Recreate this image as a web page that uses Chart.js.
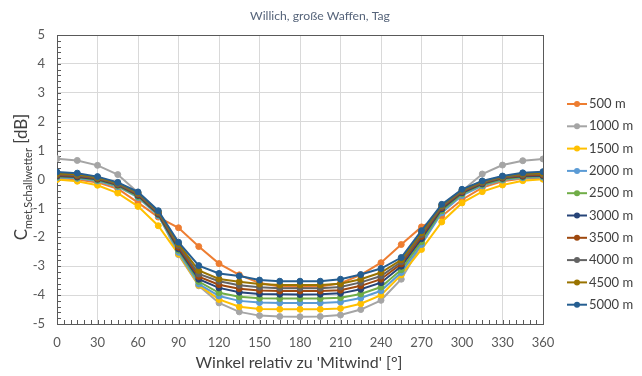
<!DOCTYPE html>
<html>
<head>
<meta charset="utf-8">
<script src="https://cdn.jsdelivr.net/npm/chart.js@4.4.1/dist/chart.umd.min.js"></script>
<style>
  html, body { margin: 0; padding: 0; background: #ffffff; }
  #wrap { width: 642px; height: 376px; position: relative; }
</style>
</head>
<body>
<div id="wrap"><canvas id="c" width="642" height="376"></canvas></div>
<script>
const chartTitle = "Willich, große Waffen, Tag";
const xAxisTitle = "Winkel relativ zu 'Mitwind' [°]";
const yAxisMain = "C";
const yAxisSub = "met,Schallwetter";
const yAxisUnit = " [dB]";

const angles = [0,15,30,45,60,75,90,105,120,135,150,165,180,195,210,225,240,255,270,285,300,315,330,345,360];
const seriesLabels = ["500 m","1000 m","1500 m","2000 m","2500 m","3000 m","3500 m","4000 m","4500 m","5000 m"];

const s500  = [0.05, 0.00, -0.10, -0.32, -0.80, -1.30, -1.67, -2.32, -2.91, -3.30, -3.58, -3.70, -3.72, -3.70, -3.59, -3.30, -2.88, -2.25, -1.64, -1.27, -0.70, -0.28, -0.06, 0.03, 0.06];
const s1000 = [0.72, 0.66, 0.49, 0.17, -0.45, -1.20, -2.60, -3.68, -4.27, -4.58, -4.71, -4.74, -4.75, -4.74, -4.69, -4.50, -4.18, -3.45, -2.25, -1.05, -0.40, 0.19, 0.50, 0.65, 0.71];
const s1500 = [0.00, -0.06, -0.20, -0.47, -0.93, -1.60, -2.58, -3.66, -4.15, -4.40, -4.48, -4.49, -4.49, -4.49, -4.46, -4.30, -4.00, -3.30, -2.42, -1.47, -0.81, -0.42, -0.19, -0.04, 0.01];
const s2000 = [0.07, 0.04, -0.05, -0.25, -0.62, -1.25, -2.52, -3.62, -4.03, -4.20, -4.26, -4.27, -4.27, -4.27, -4.24, -4.10, -3.85, -3.22, -2.25, -1.15, -0.55, -0.22, -0.02, 0.06, 0.08];
const s2500 = [0.10, 0.07, -0.02, -0.22, -0.59, -1.22, -2.45, -3.53, -3.92, -4.06, -4.11, -4.12, -4.12, -4.12, -4.09, -3.96, -3.72, -3.12, -2.15, -1.08, -0.50, -0.18, 0.01, 0.09, 0.11];
const s3000 = [0.12, 0.09, 0.01, -0.19, -0.55, -1.20, -2.40, -3.45, -3.75, -3.90, -3.96, -3.97, -3.98, -3.97, -3.94, -3.80, -3.57, -3.00, -2.05, -1.02, -0.46, -0.15, 0.04, 0.11, 0.13];
const s3500 = [0.15, 0.12, 0.03, -0.17, -0.52, -1.17, -2.34, -3.36, -3.64, -3.78, -3.84, -3.86, -3.86, -3.86, -3.83, -3.68, -3.45, -2.92, -1.97, -0.97, -0.43, -0.12, 0.06, 0.14, 0.16];
const s4000 = [0.18, 0.15, 0.05, -0.15, -0.49, -1.14, -2.28, -3.27, -3.52, -3.66, -3.73, -3.76, -3.76, -3.76, -3.72, -3.56, -3.34, -2.85, -1.90, -0.93, -0.40, -0.10, 0.08, 0.17, 0.19];
const s4500 = [0.21, 0.18, 0.07, -0.12, -0.46, -1.11, -2.23, -3.15, -3.44, -3.54, -3.62, -3.65, -3.65, -3.65, -3.61, -3.45, -3.22, -2.78, -1.84, -0.89, -0.37, -0.07, 0.10, 0.20, 0.22];
const s5000 = [0.26, 0.22, 0.10, -0.10, -0.43, -1.08, -2.17, -2.98, -3.25, -3.34, -3.48, -3.52, -3.52, -3.52, -3.45, -3.29, -3.08, -2.70, -1.77, -0.86, -0.34, -0.05, 0.12, 0.23, 0.27];

const seriesValues = [s500, s1000, s1500, s2000, s2500, s3000, s3500, s4000, s4500, s5000];
const seriesColors = ["#ED7D31","#A5A5A5","#FFC000","#5B9BD5","#70AD47","#264478","#9E480E","#636363","#997300","#255E91"];

const FONT = "Lato, 'Open Sans', sans-serif";

function fitSize(ctx, text, target) {
  ctx.save();
  ctx.font = '20px ' + FONT;
  const w = ctx.measureText(text).width;
  ctx.restore();
  return Math.max(8, Math.min(22, 20 * target / w));
}

const datasets = seriesValues.map((vals, i) => ({
  label: seriesLabels[i],
  data: vals.map((v, j) => ({ x: angles[j], y: v })),
  borderColor: seriesColors[i],
  backgroundColor: seriesColors[i],
  pointBackgroundColor: seriesColors[i],
  pointBorderColor: seriesColors[i],
  borderWidth: 2,
  pointRadius: 3,
  pointBorderWidth: 1,
  tension: 0,
  order: seriesValues.length - 1 - i
}));

const decorPlugin = {
  id: 'decor',
  beforeDatasetsDraw(chart) {
    const { ctx, chartArea: a, scales } = chart;
    ctx.save();
    ctx.strokeStyle = '#595959';
    ctx.lineWidth = 1;
    ctx.beginPath();
    for (let k = -25; k <= 25; k++) {
      const y = Math.round(scales.y.getPixelForValue(k / 5)) + 0.5;
      ctx.moveTo(a.left, y); ctx.lineTo(a.left + 4, y);
    }
    for (let d = 0; d <= 360; d += 5) {
      const x = Math.round(scales.x.getPixelForValue(d)) + 0.5;
      ctx.moveTo(x, a.bottom); ctx.lineTo(x, a.bottom - 4);
    }
    ctx.stroke();
    ctx.strokeRect(Math.round(a.left) + 0.5, Math.round(a.top) + 0.5, Math.round(a.right - a.left), Math.round(a.bottom - a.top));
    ctx.restore();
  },
  afterDraw(chart) {
    const { ctx, chartArea: a } = chart;
    ctx.save();
    // title
    ctx.fillStyle = '#56647A';
    ctx.font = fitSize(ctx, chartTitle, 140) + 'px ' + FONT;
    ctx.textAlign = 'center';
    ctx.textBaseline = 'middle';
    ctx.fillText(chartTitle, 320, 16);
    // x axis title
    ctx.fillStyle = '#404040';
    ctx.font = fitSize(ctx, xAxisTitle, 207) + 'px ' + FONT;
    ctx.fillText(xAxisTitle, 299, 363);
    // y axis title with subscript
    ctx.translate(21, 177);
    ctx.rotate(-Math.PI / 2);
    ctx.textAlign = 'left';
    ctx.textBaseline = 'alphabetic';
    const f1 = '17px ' + FONT, f2 = '11px ' + FONT;
    ctx.font = f1; const w1 = ctx.measureText(yAxisMain).width; const w3 = ctx.measureText(yAxisUnit).width;
    ctx.font = f2; const w2 = ctx.measureText(yAxisSub).width;
    const start = -(w1 + w2 + w3) / 2;
    ctx.font = f1; ctx.fillText(yAxisMain, start, 6);
    ctx.font = f2; ctx.fillText(yAxisSub, start + w1, 11);
    ctx.font = f1; ctx.fillText(yAxisUnit, start + w1 + w2, 6);
    ctx.restore();
    // legend
    ctx.save();
    ctx.font = '13px ' + FONT;
    ctx.textBaseline = 'middle';
    ctx.textAlign = 'left';
    chart.data.datasets.forEach((ds, i) => {
      const y = 104 + i * 22.3;
      ctx.strokeStyle = ds.borderColor;
      ctx.lineWidth = 2;
      ctx.beginPath(); ctx.moveTo(567, y); ctx.lineTo(587, y); ctx.stroke();
      ctx.fillStyle = ds.borderColor;
      ctx.beginPath(); ctx.arc(577, y, 3, 0, Math.PI * 2); ctx.fill();
      ctx.fillStyle = '#404040';
      ctx.fillText(ds.label, 589, y);
    });
    ctx.restore();
  }
};

new Chart(document.getElementById('c'), {
  type: 'line',
  data: { datasets },
  options: {
    responsive: false,
    animation: false,
    devicePixelRatio: 1,
    layout: { padding: { left: 30, right: 99, top: 35, bottom: 0 } },
    plugins: { legend: { display: false }, title: { display: false }, tooltip: { enabled: false } },
    scales: {
      x: {
        type: 'linear', min: 0, max: 360,
        ticks: { stepSize: 30, padding: 11, color: '#595959', font: { family: FONT, size: 13 } },
        grid: { color: '#D9D9D9', drawTicks: false },
        border: { display: false },
        afterFit(s) { s.height = 52; }
      },
      y: {
        type: 'linear', min: -5, max: 5,
        ticks: { stepSize: 1, padding: 12, color: '#595959', font: { family: FONT, size: 13 } },
        grid: { color: '#D9D9D9', drawTicks: false },
        border: { display: false },
        afterFit(s) { s.width = 27; }
      }
    }
  },
  plugins: [decorPlugin]
});
</script>
</body>
</html>
